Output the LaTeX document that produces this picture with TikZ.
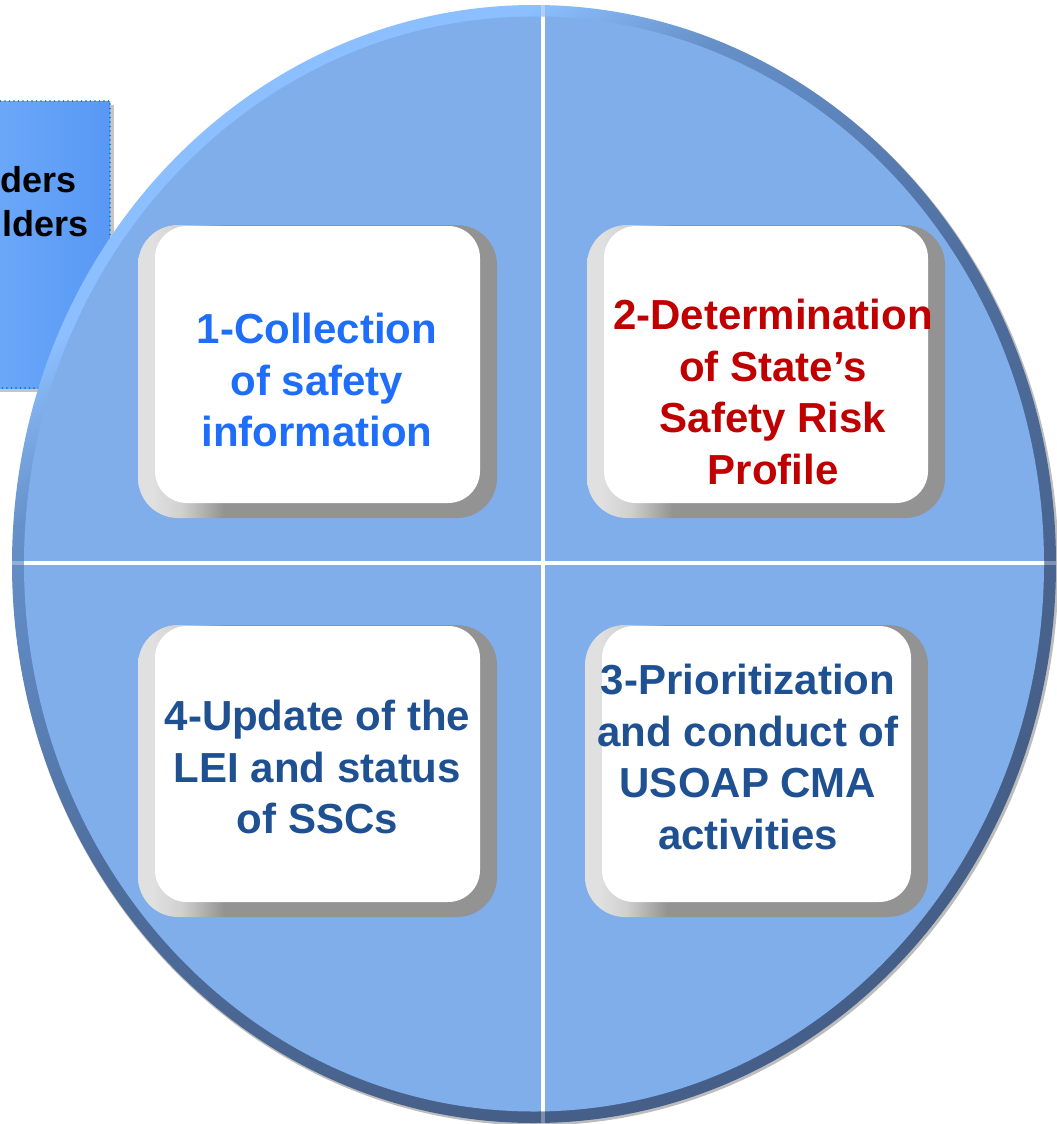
\documentclass[tikz,border=0pt]{standalone}
\usepackage{fontspec}
\setmainfont{Liberation Sans}
\usetikzlibrary{shadows}
\definecolor{rimlight}{HTML}{8CBFFF}
\definecolor{rimmidB}{HTML}{6690C8}
\definecolor{rimmid}{HTML}{5E86BE}
\definecolor{rimmidd}{HTML}{4E6E9E}
\definecolor{rimdark}{HTML}{465F88}
\definecolor{discfill}{HTML}{7FAEEB}
\definecolor{rimedge}{HTML}{BDBDBD}
\definecolor{framelight}{HTML}{E0E0E0}
\definecolor{framedark}{HTML}{939393}
\definecolor{lbleft}{HTML}{8CC4FF}
\definecolor{lbright}{HTML}{5898F5}
\definecolor{lbborder}{HTML}{0070C0}
\definecolor{txtblue}{HTML}{1F6EFA}
\definecolor{txtred}{HTML}{C00000}
\definecolor{txtnavy}{HTML}{1F5091}
\pgfdeclareverticalshading{rimshade}{100bp}{color(0bp)=(rimdark); color(30bp)=(rimdark); color(50bp)=(rimmidd); color(60bp)=(rimmid); color(65bp)=(rimmidB); color(71bp)=(rimlight); color(100bp)=(rimlight)}
\pgfdeclarehorizontalshading{frameshade}{100bp}{color(0bp)=(framelight); color(27bp)=(framelight); color(31bp)=(framelight!80!framedark); color(37bp)=(framedark); color(100bp)=(framedark)}
\tikzset{
  boxtext/.style={align=center, inner sep=0pt, font=\fontsize{42}{51.5}\selectfont\bfseries},
  sidetext/.style={anchor=east, inner sep=0pt, font=\fontsize{36}{44}\selectfont\bfseries, text=black},
  outerframe/.style={shading=frameshade, rounded corners=40pt},
  innerface/.style={fill=white, rounded corners=32pt},
  divider/.style={white, line width=4pt}
}
\newcommand\bevelbox[4]{%
  \path[outerframe] (#1,#2) rectangle (#3,#4);
  \path[innerface] (#1+17,#2+1) rectangle (#3-17,#4-15);
}
\begin{document}
\begin{tikzpicture}[x=1pt,y=-1pt]
\useasboundingbox (0,0) rectangle (1057,1124);
\begin{scope}
\clip (0,0) rectangle (1057,1124);
% left partial box
\node[minimum width=310pt, minimum height=287pt, inner sep=0pt,
      left color=lbleft, right color=lbright,
      draw=lbborder, line width=1.8pt, dash pattern=on 0pt off 4.5pt, line cap=round,
      drop shadow={shadow xshift=4pt, shadow yshift=-4pt, fill=black!45, opacity=0.5}]
      (lb) at (-45,244.5) {};
\node[sidetext] (lbt1) at (77,180) {ders};
\node[sidetext] (lbt2) at (89,224) {lders};
% disc
\fill[rimedge] (535.5,566) ellipse [x radius=523, y radius=559.5];
\path[shading=rimshade, shading angle=35] (534,564) ellipse [x radius=522, y radius=559];
\fill[discfill] (534,564) ellipse [x radius=510, y radius=547.5];
\begin{scope}
  \clip (534,564) ellipse [x radius=510, y radius=547.5];
  \draw[divider] (543,0) -- (543,1124);
  \draw[divider] (0,563) -- (1057,563);
\end{scope}
\begin{scope}
  \clip (534,564) ellipse [x radius=522, y radius=559];
  \draw[divider, opacity=0.3] (543,0) -- (543,1124);
  \draw[divider, opacity=0.3] (0,563) -- (1057,563);
\end{scope}
% boxes
\bevelbox{138}{225}{497}{518}
\bevelbox{587}{225}{945}{518}
\bevelbox{138}{625}{497}{917}
\bevelbox{585}{625}{928}{917}
\node[boxtext, text=txtblue] (b1) at (317,380) {1-Collection\\of safety\\information};
\node[boxtext, text=txtred] (b2) at (773,392) {2-Determination\\of State’s\\Safety Risk\\Profile};
\node[boxtext, text=txtnavy] (b3) at (748,757) {3-Prioritization\\and conduct of\\USOAP CMA\\activities};
\node[boxtext, text=txtnavy] (b4) at (317.5,767) {4-Update of the\\LEI and status\\of SSCs};
\end{scope}
\end{tikzpicture}
\end{document}
